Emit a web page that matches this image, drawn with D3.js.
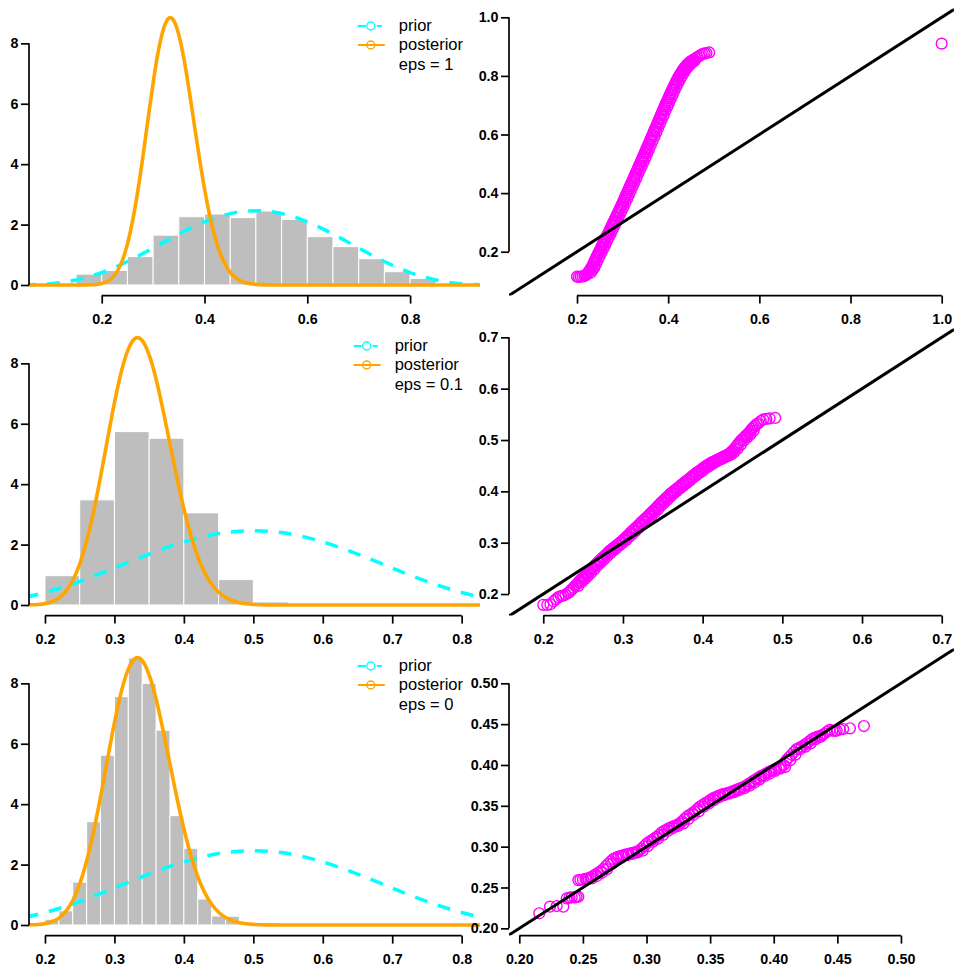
<!DOCTYPE html>
<html>
<head>
<meta charset="utf-8">
<script src="https://cdn.jsdelivr.net/npm/d3@7"></script>
<style>
  body { margin: 0; background: #fff; }
  svg { display: block; }
  text { font-family: "Liberation Sans", Arial, Helvetica, sans-serif; }
</style>
</head>
<body>
<svg id="chart" width="954" height="969"></svg>
<script>
// ---------- data ----------
// Beta prior density
const priorX = [0, 0.025, 0.05, 0.075, 0.1, 0.125, 0.15, 0.175, 0.2, 0.225, 0.25, 0.275, 0.3, 0.325, 0.35, 0.375, 0.4, 0.425, 0.45, 0.475, 0.5,
                0.525, 0.55, 0.575, 0.6, 0.625, 0.65, 0.675, 0.7, 0.725, 0.75, 0.775, 0.8, 0.825, 0.85, 0.875, 0.9, 0.925, 0.95, 0.975, 1];
const priorY = [0, 0.0002, 0.0032, 0.0146, 0.0413, 0.0902, 0.1665, 0.2737, 0.4129, 0.5825, 0.7787, 0.9955, 1.2252, 1.4591, 1.6876, 1.9010, 2.0902, 2.2468, 2.3640, 2.4364, 2.4609,
                2.4364, 2.3640, 2.2468, 2.0902, 1.9010, 1.6876, 1.4591, 1.2252, 0.9955, 0.7787, 0.5825, 0.4129, 0.2737, 0.1665, 0.0902, 0.0413, 0.0146, 0.0032, 0.0002, 0];

// posterior density
const postX = [0, 0.1, 0.15, 0.17, 0.18, 0.19, 0.2, 0.21, 0.22, 0.23, 0.24, 0.25, 0.26, 0.27, 0.28, 0.29, 0.3, 0.31, 0.32, 0.33, 0.3333,
               0.34, 0.35, 0.36, 0.37, 0.38, 0.39, 0.4, 0.41, 0.42, 0.43, 0.44, 0.45, 0.46, 0.47, 0.48, 0.49, 0.5, 0.52, 0.55, 0.6, 0.7, 1];
const postY = [0, 0, 0.0001, 0.0019, 0.0061, 0.0177, 0.0458, 0.1073, 0.2289, 0.4482, 0.8093, 1.354, 2.116, 3.091, 4.239, 5.482, 6.689, 7.732, 8.469, 8.826, 8.85,
               8.756, 8.280, 7.482, 6.452, 5.325, 4.206, 3.185, 2.308, 1.605, 1.071, 0.685, 0.4205, 0.2475, 0.1397, 0.0757, 0.0393, 0.0196, 0.0042, 0.0003, 0, 0, 0];

// histogram of draws, eps = 1 (bin width 0.05)
const hist1Left = [0.10, 0.15, 0.20, 0.25, 0.30, 0.35, 0.40, 0.45, 0.50, 0.55, 0.60, 0.65, 0.70, 0.75, 0.80];
const hist1Dens = [0.06, 0.36, 0.48, 0.94, 1.65, 2.26, 2.35, 2.23, 2.45, 2.17, 1.60, 1.27, 0.87, 0.44, 0.22];
// eps = 0.1 (bin width 0.05)
const hist2Left = [0.20, 0.25, 0.30, 0.35, 0.40, 0.45, 0.50];
const hist2Dens = [0.97, 3.48, 5.74, 5.52, 3.05, 0.84, 0.10];
// eps = 0 (bin width 0.02)
const hist3Left = [0.20, 0.22, 0.24, 0.26, 0.28, 0.30, 0.32, 0.34, 0.36, 0.38, 0.40, 0.42, 0.44, 0.46];
const hist3Dens = [0.19, 0.47, 1.42, 3.42, 5.62, 7.56, 8.84, 8.00, 6.45, 3.62, 2.54, 0.86, 0.30, 0.29];
const binWidths = [0.05, 0.05, 0.02];

// Q-Q points: [theoretical, sample]
const qq1 = [[0.200,0.115],[0.204,0.114],[0.208,0.115],[0.212,0.116],[0.216,0.117],[0.218,0.119],[0.220,0.121],[0.222,0.124],[0.224,0.128],
  [0.226,0.132],[0.228,0.137],[0.230,0.142],[0.232,0.147],[0.234,0.153],[0.236,0.159],[0.238,0.166],[0.240,0.173],[0.242,0.180],[0.244,0.186],
  [0.246,0.193],[0.248,0.199],[0.250,0.205],[0.252,0.212],[0.254,0.218],[0.256,0.224],[0.258,0.230],[0.260,0.237],[0.262,0.243],[0.264,0.250],
  [0.266,0.256],[0.268,0.262],[0.270,0.268],[0.272,0.275],[0.274,0.281],[0.276,0.288],[0.278,0.294],[0.280,0.301],[0.282,0.307],[0.284,0.314],
  [0.286,0.320],[0.288,0.327],[0.290,0.333],[0.292,0.340],[0.294,0.347],[0.296,0.353],[0.298,0.360],[0.300,0.367],[0.302,0.374],[0.304,0.381],
  [0.306,0.388],[0.308,0.395],[0.310,0.402],[0.312,0.409],[0.314,0.416],[0.316,0.423],[0.318,0.430],[0.320,0.437],[0.322,0.444],[0.324,0.451],
  [0.326,0.458],[0.328,0.465],[0.330,0.472],[0.332,0.479],[0.334,0.486],[0.336,0.493],[0.338,0.500],[0.340,0.507],[0.342,0.514],[0.344,0.521],
  [0.346,0.528],[0.348,0.536],[0.350,0.543],[0.352,0.550],[0.354,0.557],[0.356,0.564],[0.358,0.571],[0.360,0.579],[0.362,0.586],[0.364,0.593],
  [0.366,0.600],[0.368,0.608],[0.370,0.615],[0.372,0.622],[0.374,0.629],[0.376,0.637],[0.378,0.644],[0.380,0.652],[0.382,0.659],[0.384,0.666],
  [0.386,0.673],[0.388,0.681],[0.390,0.688],[0.392,0.695],[0.394,0.702],[0.396,0.709],[0.398,0.716],[0.400,0.723],[0.402,0.730],[0.404,0.737],
  [0.406,0.744],[0.408,0.751],[0.410,0.757],[0.412,0.764],[0.414,0.770],[0.416,0.776],[0.418,0.782],[0.420,0.788],[0.422,0.794],[0.424,0.800],
  [0.426,0.805],[0.428,0.810],[0.430,0.815],[0.432,0.820],[0.434,0.824],[0.436,0.828],[0.438,0.832],[0.440,0.836],[0.442,0.839],[0.444,0.842],
  [0.446,0.845],[0.448,0.848],[0.450,0.850],[0.453,0.853],[0.456,0.856],[0.460,0.860],[0.464,0.864],[0.468,0.868],[0.472,0.872],[0.476,0.875],
  [0.480,0.877],[0.484,0.878],[0.490,0.880],[1.000,0.910]];
// lower-right edge of the dense band
const qq1b = [[0.230,0.128],[0.234,0.137],[0.238,0.147],[0.242,0.159],[0.246,0.173],[0.250,0.186],[0.254,0.199],[0.258,0.212],[0.262,0.224],
  [0.266,0.237],[0.270,0.250],[0.274,0.262],[0.278,0.275],[0.282,0.288],[0.286,0.301],[0.290,0.314],[0.294,0.327],[0.298,0.340],[0.302,0.353],
  [0.306,0.367],[0.310,0.381],[0.314,0.395],[0.318,0.409],[0.322,0.423],[0.326,0.437],[0.330,0.451],[0.334,0.465],[0.338,0.479],[0.342,0.493],
  [0.346,0.507],[0.350,0.521],[0.354,0.536],[0.358,0.550],[0.362,0.564],[0.366,0.579],[0.370,0.593],[0.374,0.608],[0.378,0.622],[0.382,0.637],
  [0.386,0.652],[0.390,0.666],[0.394,0.681],[0.398,0.695],[0.402,0.709],[0.406,0.723],[0.410,0.737],[0.414,0.751],[0.418,0.764],[0.422,0.776],
  [0.426,0.788],[0.430,0.800],[0.434,0.810],[0.438,0.820],[0.442,0.828],[0.446,0.836],[0.450,0.842],[0.454,0.848],[0.458,0.852]];
const qq2 = [[0.200,0.179],[0.205,0.179],[0.209,0.180],[0.213,0.186],[0.216,0.190],[0.219,0.194],[0.222,0.196],[0.225,0.197],[0.228,0.199],
  [0.231,0.202],[0.232,0.203],[0.234,0.206],[0.236,0.209],[0.238,0.212],[0.240,0.216],[0.242,0.219],[0.244,0.223],[0.246,0.226],[0.248,0.229],
  [0.250,0.232],[0.252,0.235],[0.254,0.238],[0.256,0.241],[0.258,0.244],[0.260,0.248],[0.262,0.251],[0.264,0.255],[0.266,0.258],[0.268,0.261],
  [0.270,0.264],[0.272,0.267],[0.274,0.270],[0.276,0.273],[0.278,0.276],[0.280,0.279],[0.282,0.282],[0.284,0.285],[0.286,0.287],[0.288,0.290],
  [0.290,0.292],[0.292,0.295],[0.294,0.297],[0.296,0.300],[0.298,0.302],[0.300,0.305],[0.302,0.308],[0.304,0.311],[0.306,0.314],[0.308,0.317],
  [0.310,0.320],[0.312,0.323],[0.314,0.326],[0.316,0.329],[0.318,0.332],[0.320,0.335],[0.322,0.338],[0.324,0.341],[0.326,0.344],[0.328,0.347],
  [0.330,0.350],[0.332,0.353],[0.334,0.356],[0.336,0.359],[0.338,0.362],[0.340,0.365],[0.342,0.368],[0.344,0.372],[0.346,0.375],[0.348,0.378],
  [0.350,0.381],[0.352,0.384],[0.354,0.387],[0.356,0.390],[0.358,0.393],[0.360,0.396],[0.362,0.398],[0.364,0.401],[0.366,0.403],[0.368,0.406],
  [0.370,0.408],[0.372,0.411],[0.374,0.413],[0.376,0.416],[0.378,0.418],[0.380,0.421],[0.382,0.423],[0.384,0.426],[0.386,0.428],[0.388,0.431],
  [0.390,0.433],[0.392,0.436],[0.394,0.438],[0.396,0.440],[0.398,0.442],[0.400,0.445],[0.402,0.447],[0.404,0.449],[0.406,0.451],[0.408,0.453],
  [0.410,0.455],[0.412,0.457],[0.414,0.458],[0.416,0.460],[0.418,0.461],[0.420,0.463],[0.422,0.464],[0.424,0.466],[0.426,0.467],[0.428,0.469],
  [0.430,0.470],[0.432,0.472],[0.434,0.474],[0.436,0.477],[0.438,0.480],[0.440,0.483],[0.442,0.487],[0.444,0.491],[0.446,0.495],[0.448,0.499],
  [0.450,0.502],[0.452,0.505],[0.454,0.508],[0.456,0.511],[0.458,0.514],[0.460,0.518],[0.462,0.522],[0.464,0.525],[0.466,0.528],[0.468,0.531],
  [0.470,0.533],[0.473,0.537],[0.476,0.540],[0.480,0.541],[0.484,0.542],[0.491,0.543]];
const qq2b = [[0.244,0.216],[0.248,0.223],[0.252,0.229],[0.256,0.235],[0.260,0.241],[0.264,0.248],[0.268,0.255],[0.272,0.261],[0.276,0.267],
  [0.280,0.273],[0.284,0.279],[0.288,0.285],[0.292,0.290],[0.296,0.295],[0.300,0.300],[0.304,0.305],[0.308,0.311],[0.312,0.317],[0.316,0.323],
  [0.320,0.329],[0.324,0.335],[0.328,0.341],[0.332,0.347],[0.336,0.353],[0.340,0.359],[0.344,0.365],[0.348,0.372],[0.352,0.378],[0.356,0.384],
  [0.360,0.390],[0.364,0.396],[0.368,0.401],[0.372,0.406],[0.376,0.411],[0.380,0.416],[0.384,0.421],[0.388,0.426],[0.392,0.431],[0.396,0.436],
  [0.400,0.440],[0.404,0.445],[0.408,0.449],[0.412,0.453],[0.416,0.457],[0.420,0.460],[0.424,0.463],[0.428,0.466],[0.432,0.469],[0.436,0.472],
  [0.440,0.477],[0.444,0.483],[0.448,0.491],[0.452,0.499],[0.456,0.505],[0.460,0.511],[0.464,0.518]];
const qq3 = [[0.2157,0.2184],[0.2241,0.2265],[0.2294,0.2273],[0.2346,0.2265],[0.2373,0.2367],[0.2395,0.2375],[0.2412,0.2380],[0.2435,0.2378],
  [0.2450,0.2383],[0.2464,0.2387],[0.2464,0.2591],[0.2480,0.2595],[0.2500,0.2598],[0.2520,0.2605],[0.2540,0.2612],[0.2560,0.2625],[0.2580,0.2640],
  [0.2600,0.2660],[0.2620,0.2680],[0.2640,0.2700],[0.2660,0.2725],[0.2680,0.2760],[0.2700,0.2790],[0.2720,0.2820],[0.2740,0.2850],[0.2760,0.2865],
  [0.2780,0.2878],[0.2800,0.2888],[0.2820,0.2896],[0.2840,0.2905],[0.2860,0.2912],[0.2880,0.2920],[0.2900,0.2928],[0.2920,0.2937],[0.2940,0.2950],
  [0.2960,0.2975],[0.2980,0.3005],[0.3000,0.3035],[0.3020,0.3060],[0.3040,0.3077],[0.3060,0.3098],[0.3080,0.3120],[0.3100,0.3145],[0.3120,0.3175],
  [0.3140,0.3195],[0.3160,0.3213],[0.3180,0.3228],[0.3200,0.3243],[0.3220,0.3255],[0.3240,0.3268],[0.3260,0.3285],[0.3280,0.3310],[0.3300,0.3340],
  [0.3320,0.3370],[0.3340,0.3390],[0.3360,0.3410],[0.3380,0.3432],[0.3400,0.3462],[0.3420,0.3490],[0.3440,0.3510],[0.3460,0.3530],[0.3480,0.3550],
  [0.3500,0.3570],[0.3520,0.3590],[0.3540,0.3605],[0.3560,0.3618],[0.3580,0.3630],[0.3600,0.3642],[0.3620,0.3650],[0.3640,0.3657],[0.3660,0.3667],
  [0.3680,0.3680],[0.3700,0.3693],[0.3720,0.3705],[0.3740,0.3716],[0.3760,0.3730],[0.3780,0.3746],[0.3800,0.3765],[0.3820,0.3785],[0.3840,0.3805],
  [0.3860,0.3825],[0.3880,0.3845],[0.3900,0.3865],[0.3920,0.3880],[0.3940,0.3895],[0.3960,0.3912],[0.3980,0.3928],[0.4000,0.3942],[0.4020,0.3955],
  [0.4040,0.3962],[0.4060,0.3975],[0.4080,0.4000],[0.4100,0.4060],[0.4120,0.4095],[0.4140,0.4125],[0.4160,0.4160],[0.4180,0.4195],[0.4200,0.4210],
  [0.4220,0.4225],[0.4240,0.4245],[0.4260,0.4265],[0.4280,0.4290],[0.4300,0.4315],[0.4320,0.4333],[0.4340,0.4345],[0.4360,0.4355],[0.4380,0.4365],
  [0.4400,0.4385],[0.4420,0.4410],[0.4440,0.4430],[0.4460,0.4420],[0.4480,0.4418],[0.4495,0.4420],[0.4520,0.4435],[0.4546,0.4440],[0.4599,0.4449],
  [0.4709,0.4477]];
const qq3b = [[0.253,0.2598],[0.257,0.2612],[0.261,0.2640],[0.265,0.2680],[0.269,0.2725],[0.273,0.2790],[0.277,0.2850],[0.281,0.2878],[0.285,0.2896],
  [0.289,0.2912],[0.293,0.2928],[0.297,0.2950],[0.301,0.3005],[0.305,0.3060],[0.309,0.3098],[0.313,0.3145],[0.317,0.3195],[0.321,0.3228],[0.325,0.3255],
  [0.329,0.3285],[0.333,0.3340],[0.337,0.3390],[0.341,0.3432],[0.345,0.3490],[0.349,0.3530],[0.353,0.3570],[0.357,0.3605],[0.361,0.3630],[0.365,0.3650],
  [0.369,0.3667],[0.373,0.3693],[0.377,0.3716],[0.381,0.3746],[0.385,0.3785],[0.389,0.3825],[0.393,0.3865],[0.397,0.3895],[0.401,0.3928],[0.405,0.3955],
  [0.409,0.3975],[0.413,0.4060],[0.417,0.4125],[0.421,0.4195],[0.425,0.4225],[0.429,0.4265],[0.433,0.4315],[0.437,0.4345]];

// tick values and labels
const densTicks = [0, 2, 4, 6, 8];
const xTicksTop = [0.2, 0.4, 0.6, 0.8];
const xTicksLower = [0.2, 0.3, 0.4, 0.5, 0.6, 0.7, 0.8];
const qqTicks1 = [0.2, 0.4, 0.6, 0.8, 1.0];
const qqTicks2 = [0.2, 0.3, 0.4, 0.5, 0.6, 0.7];
const qqTicks3 = [0.20, 0.25, 0.30, 0.35, 0.40, 0.45, 0.50];
const legendNames = ["prior", "posterior"];
const epsLabels = ["eps = 1", "eps = 0.1", "eps = 0"];

// ---------- layout ----------
const svg = d3.select("#chart");
const rowH = 320, plotTop = 8.6, plotBottom = 295.6;
const leftCol = [29, 480], rightCol = [509, 954];
const colors = { prior: "#00FFFF", post: "#FFA500", hist: "#BEBEBE", qq: "#FF00FF" };

// axis domains per row (extent of each plotting region in data units)
const densXDomains = [[0.0585, 0.936], [0.177, 0.8264], [0.177, 0.8264]];
const densYDomain = [-0.351, 9.15];
const qqXDomains = [[0.0508, 1.027], [0.157, 0.7154], [0.1919, 0.5417]];
const qqYDomains = [[0.0502, 1.0297], [0.158, 0.717], [0.1911, 0.5425]];

const hists = [[hist1Left, hist1Dens], [hist2Left, hist2Dens], [hist3Left, hist3Dens]];
const densXTicks = [xTicksTop, xTicksLower, xTicksLower];
const qqData = [qq1.concat(qq1b), qq2.concat(qq2b), qq3.concat(qq3b)];
const qqTicks = [qqTicks1, qqTicks2, qqTicks3];
const qqFormats = [d3.format(".1f"), d3.format(".1f"), d3.format(".2f")];

const tickLen = 8;

function drawAxes(g, x, y, xTicks, yTicks, xFmt, yFmt) {
  const axB = g.append("g").attr("transform", `translate(0,${y.range()[0]})`)
    .call(d3.axisBottom(x).tickValues(xTicks).tickFormat(xFmt).tickSizeInner(tickLen).tickSizeOuter(0).tickPadding(9.8));
  axB.select(".domain").remove();
  axB.append("line").attr("x1", x(xTicks[0])).attr("x2", x(xTicks[xTicks.length - 1]));
  const axL = g.append("g").attr("transform", `translate(${x.range()[0]},0)`)
    .call(d3.axisLeft(y).tickValues(yTicks).tickFormat(yFmt).tickSizeInner(tickLen).tickSizeOuter(0).tickPadding(2.5));
  axL.select(".domain").remove();
  axL.append("line").attr("y1", y(yTicks[0])).attr("y2", y(yTicks[yTicks.length - 1]));
  [axB, axL].forEach(a => {
    a.attr("font-size", 14.3).attr("font-weight", "bold").attr("font-family", null);
    a.selectAll("line").attr("stroke", "#000").attr("stroke-width", 1.7);
    a.selectAll("text").attr("fill", "#000");
  });
}

for (let r = 0; r < 3; r++) {
  const top = r * rowH + plotTop, bottom = r * rowH + plotBottom;

  // ----- density panel -----
  const x = d3.scaleLinear().domain(densXDomains[r]).range(leftCol);
  const y = d3.scaleLinear().domain(densYDomain).range([bottom, top]);
  const g = svg.append("g");
  const clipId = "clipL" + r;
  g.append("clipPath").attr("id", clipId).append("rect")
    .attr("x", leftCol[0]).attr("y", top).attr("width", leftCol[1] - leftCol[0]).attr("height", bottom - top);
  const plot = g.append("g").attr("clip-path", `url(#${clipId})`);

  const [lefts, dens] = hists[r];
  const w = binWidths[r];
  plot.selectAll("rect.bar").data(lefts).join("rect").attr("class", "bar")
    .attr("x", d => x(d)).attr("width", d => x(d + w) - x(d))
    .attr("y", (d, i) => y(dens[i])).attr("height", (d, i) => y(0) - y(dens[i]))
    .attr("fill", colors.hist).attr("stroke", "#fff").attr("stroke-width", 1);

  const line = d3.line().x(d => x(d[0])).y(d => y(d[1])).curve(d3.curveMonotoneX);
  plot.append("path").datum(priorX.map((v, i) => [v, priorY[i]]))
    .attr("d", line).attr("fill", "none").attr("stroke", colors.prior)
    .attr("stroke-width", 3.5).attr("stroke-dasharray", "13,11");
  plot.append("path").datum(postX.map((v, i) => [v, postY[i]]))
    .attr("d", line).attr("fill", "none").attr("stroke", colors.post)
    .attr("stroke-width", 3.6).attr("stroke-linejoin", "round");

  drawAxes(g, x, y, densXTicks[r], densTicks, d3.format(".1f"), d3.format("d"));

  // legend, anchored to the top-right corner of the plotting region
  const leg = g.append("g").attr("font-size", 16.5).attr("fill", "#000");
  const labels = [legendNames[0], legendNames[1], epsLabels[r]];
  const texts = leg.selectAll("text").data(labels).join("text").text(d => d);
  const maxW = d3.max(texts.nodes(), n => n.getComputedTextLength());
  const tx = leftCol[1] - 17 - maxW;
  const base0 = r * rowH + 31;
  texts.attr("x", tx).attr("y", (d, i) => base0 + i * 19.4);
  const cy0 = r * rowH + 26;
  // prior key: dashed segment with open circle
  leg.append("line").attr("x1", tx - 41).attr("x2", tx - 17).attr("y1", cy0).attr("y2", cy0)
    .attr("stroke", colors.prior).attr("stroke-width", 2).attr("stroke-dasharray", "8,11");
  leg.append("circle").attr("cx", tx - 28).attr("cy", cy0).attr("r", 4)
    .attr("fill", "none").attr("stroke", colors.prior).attr("stroke-width", 1.4);
  // posterior key: solid segment with open circle
  leg.append("line").attr("x1", tx - 41).attr("x2", tx - 14).attr("y1", cy0 + 19).attr("y2", cy0 + 19)
    .attr("stroke", colors.post).attr("stroke-width", 2);
  leg.append("circle").attr("cx", tx - 28).attr("cy", cy0 + 19).attr("r", 4)
    .attr("fill", "none").attr("stroke", colors.post).attr("stroke-width", 1.4);

  // ----- Q-Q panel -----
  const qx = d3.scaleLinear().domain(qqXDomains[r]).range(rightCol);
  const qy = d3.scaleLinear().domain(qqYDomains[r]).range([bottom, top]);
  const q = svg.append("g");
  const clipQ = "clipR" + r;
  q.append("clipPath").attr("id", clipQ).append("rect")
    .attr("x", rightCol[0]).attr("y", top).attr("width", rightCol[1] - rightCol[0] + 5).attr("height", bottom - top);
  const qplot = q.append("g").attr("clip-path", `url(#${clipQ})`);
  qplot.selectAll("circle").data(qqData[r]).join("circle")
    .attr("cx", d => qx(d[0])).attr("cy", d => qy(d[1])).attr("r", 5.4)
    .attr("fill", "none").attr("stroke", colors.qq).attr("stroke-width", 1.4);
  // reference line y = x
  const lo = Math.min(qqXDomains[r][0], qqYDomains[r][0]) - 0.05;
  const hi = Math.max(qqXDomains[r][1], qqYDomains[r][1]) + 0.05;
  qplot.append("line").attr("x1", qx(lo)).attr("y1", qy(lo)).attr("x2", qx(hi)).attr("y2", qy(hi))
    .attr("stroke", "#000").attr("stroke-width", 3);

  drawAxes(q, qx, qy, qqTicks[r], qqTicks[r], qqFormats[r], qqFormats[r]);
}
</script>
</body>
</html>
